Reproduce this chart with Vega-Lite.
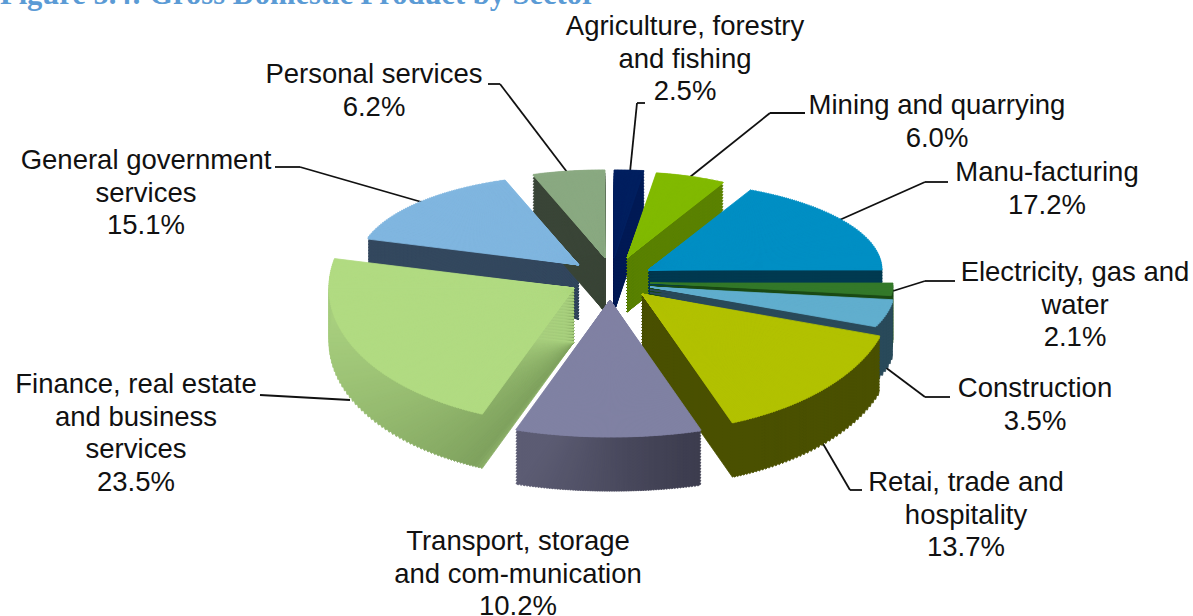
{"$schema":"https://vega.github.io/schema/vega-lite/v6.json","width":1193,"height":616,"padding":0,"autosize":{"type":"none"},"background":"white","view":{"stroke":null},
"data":{"values":[
{"rank":1,"sector":"Agriculture","share":2.5,"label":"Agriculture, forestry|and fishing|2.5%"},
{"rank":2,"sector":"Mining","share":6.0,"label":"Mining and quarrying|6.0%"},
{"rank":3,"sector":"Manufacturing","share":17.2,"label":"Manu-facturing|17.2%"},
{"rank":4,"sector":"Electricity","share":2.1,"label":"Electricity, gas and|water|2.1%"},
{"rank":5,"sector":"Construction","share":3.5,"label":"Construction|3.5%"},
{"rank":6,"sector":"Retail","share":13.7,"label":"Retai, trade and|hospitality|13.7%"},
{"rank":7,"sector":"Transport","share":10.2,"label":"Transport, storage|and com-munication|10.2%"},
{"rank":8,"sector":"Finance","share":23.5,"label":"Finance, real estate|and business|services|23.5%"},
{"rank":9,"sector":"Government","share":15.1,"label":"General government|services|15.1%"},
{"rank":10,"sector":"Personal","share":6.2,"label":"Personal services|6.2%"}]},
"transform":[
{"window":[{"op":"sum","field":"share","as":"end"}],"sort":[{"field":"rank"}]},
{"calculate":"datum.end-datum.share","as":"start"},
{"calculate":"({Agriculture:[614,258,250,88,0,19],Mining:[627,258,203,86,19,52],Manufacturing:[648,270,234,89,52,90],Electricity:[650,283,243,100,90,93],Construction:[650,287,245,100,93,100],Retail:[642,294,250,138,100,145],Transport:[610,300,300,137,145,216],Finance:[574,288,245,136,216,277],Government:[579,265,221,90,277,319],Personal:[605,258,224,88,319,360]})[datum.sector]","as":"pie"},
{"calculate":"datum.pie[0]","as":"cx"},{"calculate":"datum.pie[1]","as":"cy"},
{"calculate":"({Agriculture:[685,35],Mining:[937,114],Manufacturing:[1047,181],Electricity:[1075,281],Construction:[1035,397],Retail:[966,491],Transport:[518,550],Finance:[136,393],Government:[146,169],Personal:[374,83]})[datum.sector]","as":"tag"},
{"calculate":"datum.tag[0]","as":"tx"},{"calculate":"datum.tag[1]","as":"ty"},
{"calculate":"({Agriculture:[645,103,637,103,630,172],Mining:[805,113,770,113,690,177],Manufacturing:[948,182,925,182,835,222],Electricity:[955,281,925,281,893,291],Construction:[950,397,925,397,885,367],Retail:[862,490,850,490,822,442],Transport:[0,0,0,0,0,0],Finance:[260,395,260,395,350,400],Government:[275,167,300,167,425,203],Personal:[488,84,500,84,567,172]})[datum.sector]","as":"lead"},
{"calculate":"datum.lead[0]","as":"lx"},{"calculate":"datum.lead[1]","as":"ly"},{"calculate":"datum.lead[2]","as":"bx"},{"calculate":"datum.lead[3]","as":"by"},{"calculate":"datum.lead[4]","as":"sx"},{"calculate":"datum.lead[5]","as":"sy"}
],
"layer":[
{"transform":[{"filter":"datum.lx>0"}],"mark":{"type":"rule","color":"#111111","strokeWidth":1.8},"encoding":{"x":{"field":"lx","type":"quantitative","scale":{"domain":[0,1193],"range":[0,1193]},"axis":null},"y":{"field":"ly","type":"quantitative","scale":{"domain":[0,616],"range":[0,616]},"axis":null},"x2":{"field":"bx"},"y2":{"field":"by"}}},
{"transform":[{"filter":"datum.lx>0"}],"mark":{"type":"rule","color":"#111111","strokeWidth":1.8},"encoding":{"x":{"field":"bx","type":"quantitative","scale":{"domain":[0,1193],"range":[0,1193]},"axis":null},"y":{"field":"by","type":"quantitative","scale":{"domain":[0,616],"range":[0,616]},"axis":null},"x2":{"field":"sx"},"y2":{"field":"sy"}}},
{"transform":[
{"filter":"datum.sector!='Transport'&&datum.sector!='Finance'"},
{"calculate":"datum.pie[5]-datum.pie[4]","as":"span"},
{"calculate":"sequence(0,datum.span)","as":"step"},{"flatten":["step"]},
{"calculate":"datum.start+datum.share*datum.step/datum.span","as":"s1"},
{"calculate":"min(datum.end,datum.start+datum.share*(datum.step+1.4)/datum.span)","as":"s2"},
{"calculate":"(datum.pie[4]+datum.step+0.5)*PI/180","as":"phi"},
{"calculate":"1/sqrt(pow(sin(datum.phi)/datum.pie[2],2)+pow(cos(datum.phi)/datum.pie[3],2))","as":"reach"},
{"calculate":"[3,6,9,12,15,18,21,24,27,30,33,36,39,42,45,48,51,54]","as":"lift"},{"flatten":["lift"]},{"calculate":"datum.cy+datum.lift","as":"wy"}],
"mark":{"type":"arc","strokeWidth":0.8},
"encoding":{"x":{"field":"cx","type":"quantitative","scale":{"domain":[0,1193],"range":[0,1193]},"axis":null},"y":{"field":"wy","type":"quantitative","scale":{"domain":[0,616],"range":[0,616]},"axis":null},
"theta":{"field":"s1","type":"quantitative","scale":{"type":"linear","domain":[0,2.5,8.5,25.7,27.8,31.3,45,55.2,78.7,93.8,100],"range":[0,0.3316,0.9076,1.5708,1.6232,1.7453,2.5307,3.7699,4.8346,5.5676,6.2832]}},"theta2":{"field":"s2"},
"radius":{"field":"reach","type":"quantitative","scale":{"type":"linear","domain":[0,300],"range":[0,300]}},
"color":{"field":"sector","type":"nominal","legend":null,"scale":{"domain":["Agriculture","Mining","Manufacturing","Electricity","Construction","Retail","Government","Personal"],"range":["#001a55","#5b8200","#003a50","#1a4a14","#2a4a5a","#4a5000","#33485e","#3a4537"]}},
"stroke":{"field":"sector","type":"nominal","legend":null,"scale":{"domain":["Agriculture","Mining","Manufacturing","Electricity","Construction","Retail","Government","Personal"],"range":["#001a55","#5b8200","#003a50","#1a4a14","#2a4a5a","#4a5000","#33485e","#3a4537"]}}}},
{"transform":[
{"filter":"datum.sector=='Transport'||datum.sector=='Finance'"},
{"calculate":"datum.pie[5]-datum.pie[4]","as":"span"},
{"calculate":"sequence(0,datum.span)","as":"step"},{"flatten":["step"]},
{"calculate":"datum.start+datum.share*datum.step/datum.span","as":"s1"},
{"calculate":"min(datum.end,datum.start+datum.share*(datum.step+1.4)/datum.span)","as":"s2"},
{"calculate":"datum.pie[4]+datum.step+0.5","as":"deg"},
{"calculate":"datum.deg*PI/180","as":"phi"},
{"calculate":"1/sqrt(pow(sin(datum.phi)/datum.pie[2],2)+pow(cos(datum.phi)/datum.pie[3],2))","as":"reach"},
{"calculate":"[3,6,9,12,15,18,21,24,27,30,33,36,39,42,45,48,51,54]","as":"lift"},{"flatten":["lift"]},{"calculate":"datum.cy+datum.lift","as":"wy"}],
"mark":{"type":"arc","strokeWidth":0.8},
"encoding":{"x":{"field":"cx","type":"quantitative","scale":{"domain":[0,1193],"range":[0,1193]},"axis":null},"y":{"field":"wy","type":"quantitative","scale":{"domain":[0,616],"range":[0,616]},"axis":null},
"theta":{"field":"s1","type":"quantitative","scale":{"type":"linear","domain":[0,2.5,8.5,25.7,27.8,31.3,45,55.2,78.7,93.8,100],"range":[0,0.3316,0.9076,1.5708,1.6232,1.7453,2.5307,3.7699,4.8346,5.5676,6.2832]}},"theta2":{"field":"s2"},
"radius":{"field":"reach","type":"quantitative","scale":{"type":"linear","domain":[0,300],"range":[0,300]}},
"color":{"field":"deg","type":"quantitative","legend":null,"scale":{"type":"linear","domain":[145,215.6,216.4,219,277],"range":["#3c3c4e","#5c5c73","#8aad66","#7fa25e","#a9d07f"]}},
"stroke":{"field":"deg","type":"quantitative","legend":null,"scale":{"type":"linear","domain":[145,215.6,216.4,219,277],"range":["#3c3c4e","#5c5c73","#8aad66","#7fa25e","#a9d07f"]}}}},
{"transform":[
{"calculate":"datum.pie[5]-datum.pie[4]","as":"span"},
{"calculate":"sequence(0,datum.span,0.5)","as":"step"},{"flatten":["step"]},
{"calculate":"datum.start+datum.share*datum.step/datum.span","as":"s1"},
{"calculate":"min(datum.end,datum.start+datum.share*(datum.step+0.7)/datum.span)","as":"s2"},
{"calculate":"(datum.pie[4]+datum.step+0.25)*PI/180","as":"phi"},
{"calculate":"1/sqrt(pow(sin(datum.phi)/datum.pie[2],2)+pow(cos(datum.phi)/datum.pie[3],2))","as":"reach"}],
"mark":{"type":"arc","strokeWidth":0.8},
"encoding":{"x":{"field":"cx","type":"quantitative","scale":{"domain":[0,1193],"range":[0,1193]},"axis":null},"y":{"field":"cy","type":"quantitative","scale":{"domain":[0,616],"range":[0,616]},"axis":null},
"theta":{"field":"s1","type":"quantitative","scale":{"type":"linear","domain":[0,2.5,8.5,25.7,27.8,31.3,45,55.2,78.7,93.8,100],"range":[0,0.3316,0.9076,1.5708,1.6232,1.7453,2.5307,3.7699,4.8346,5.5676,6.2832]}},"theta2":{"field":"s2"},
"radius":{"field":"reach","type":"quantitative","scale":{"type":"linear","domain":[0,300],"range":[0,300]}},
"color":{"field":"sector","type":"nominal","legend":null,"scale":{"domain":["Agriculture","Mining","Manufacturing","Electricity","Construction","Retail","Transport","Finance","Government","Personal"],"range":["#002060","#82ba00","#008fc4","#33792a","#61aece","#b2c200","#8082a3","#b1db82","#80b6e0","#8aa982"]}},
"stroke":{"field":"sector","type":"nominal","legend":null,"scale":{"domain":["Agriculture","Mining","Manufacturing","Electricity","Construction","Retail","Transport","Finance","Government","Personal"],"range":["#002060","#82ba00","#008fc4","#33792a","#61aece","#b2c200","#8082a3","#b1db82","#80b6e0","#8aa982"]}}}},
{"mark":{"type":"text","font":"Liberation Sans","fontSize":27.5,"align":"center","baseline":"alphabetic","lineBreak":"|","lineHeight":32.5,"color":"#111111"},
"encoding":{"x":{"field":"tx","type":"quantitative","scale":{"domain":[0,1193],"range":[0,1193]},"axis":null},"y":{"field":"ty","type":"quantitative","scale":{"domain":[0,616],"range":[0,616]},"axis":null},"text":{"field":"label"}}},
{"data":{"values":[{"heading":"Figure 5.4: Gross Domestic Product by Sector"}]},"mark":{"type":"text","font":"Liberation Serif","fontWeight":"bold","fontSize":30.5,"align":"left","baseline":"alphabetic","color":"#5b9bd5"},
"encoding":{"x":{"datum":0,"type":"quantitative","scale":{"domain":[0,1193],"range":[0,1193]},"axis":null},"y":{"datum":4,"type":"quantitative","scale":{"domain":[0,616],"range":[0,616]},"axis":null},"text":{"field":"heading"}}}
],
"resolve":{"scale":{"color":"independent","stroke":"independent"}}}
